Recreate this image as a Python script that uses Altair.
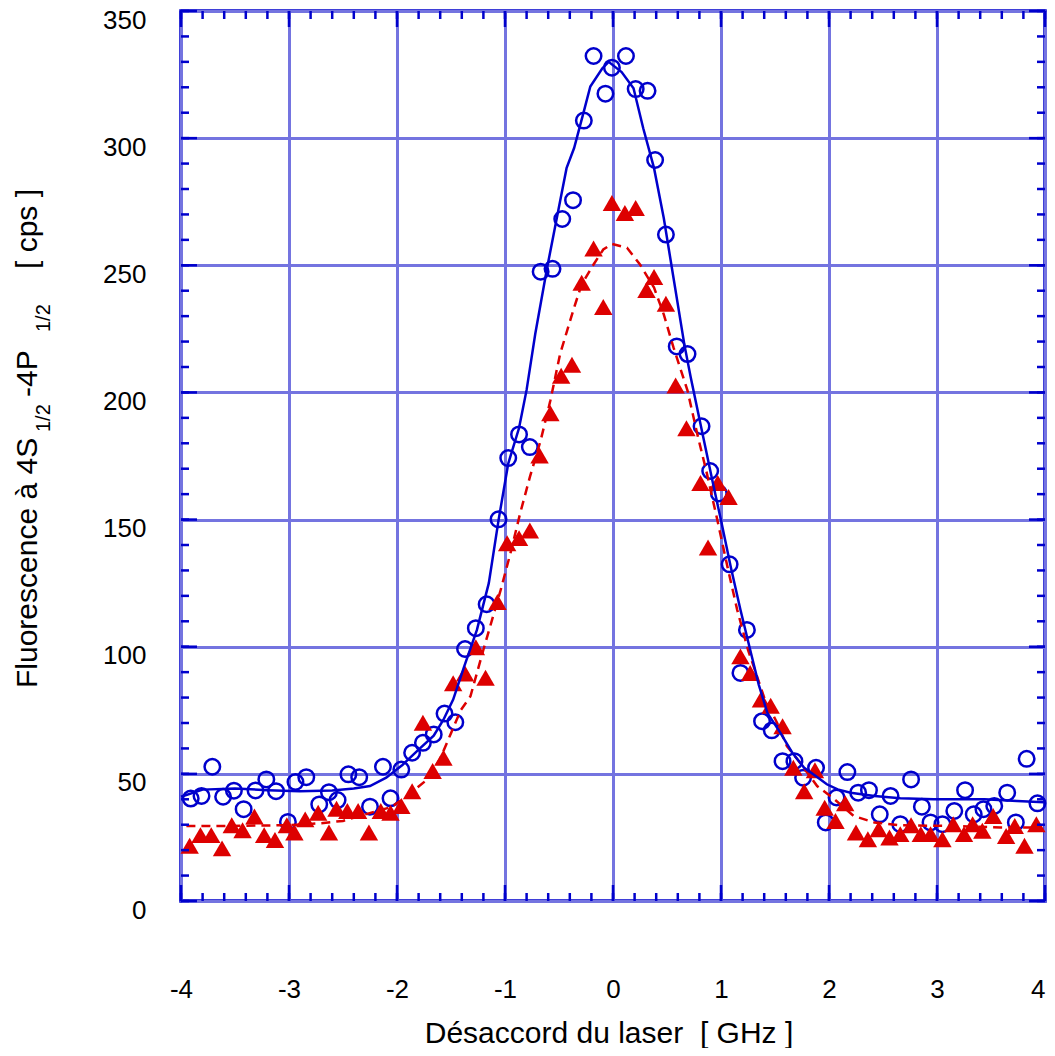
import altair as alt
import pandas as pd
import numpy as np

# ---------------- data ----------------
circ_x = [-3.91, -3.81, -3.71, -3.61, -3.51, -3.42, -3.31, -3.21, -3.12, -3.01,
          -2.94, -2.84, -2.72, -2.63, -2.55, -2.45, -2.35, -2.25, -2.13, -2.06,
          -1.96, -1.86, -1.76, -1.66, -1.56, -1.46, -1.37, -1.27, -1.17, -1.06,
          -0.97, -0.87, -0.77, -0.67, -0.56, -0.47, -0.37, -0.27, -0.18, -0.07,
          -0.01, 0.12, 0.21, 0.32, 0.39, 0.49, 0.59, 0.69, 0.82, 0.90,
          0.98, 1.08, 1.18, 1.24, 1.38, 1.47, 1.57, 1.68, 1.76, 1.88,
          1.97, 2.07, 2.17, 2.27, 2.37, 2.47, 2.57, 2.66, 2.76, 2.86,
          2.94, 3.05, 3.16, 3.26, 3.34, 3.43, 3.53, 3.65, 3.73, 3.83, 3.93]
circ_y = [40.3, 41.3, 52.8, 41.0, 43.4, 36.1, 43.5, 47.8, 43.2, 31.1,
          46.8, 48.7, 38.0, 42.8, 39.7, 49.8, 48.7, 37.1, 52.8, 40.4,
          51.7, 58.3, 62.2, 65.5, 73.7, 70.3, 99.1, 107.3, 116.7, 150.1,
          174.2, 183.5, 178.5, 247.5, 248.6, 268.2, 275.6, 306.9, 332.3, 317.5,
          327.7, 332.3, 319.3, 318.6, 291.4, 262.1, 218.1, 215.1, 186.7, 169.1,
          160.3, 132.4, 89.7, 106.6, 70.7, 67.1, 55.0, 55.0, 48.5, 52.4,
          30.9, 40.7, 50.7, 42.6, 43.6, 34.1, 41.3, 30.2, 47.8, 37.1,
          30.9, 30.2, 35.4, 43.6, 34.1, 36.1, 37.4, 42.6, 30.9, 55.9, 38.4]

tri_x = [-3.92, -3.82, -3.72, -3.62, -3.53, -3.43, -3.32, -3.23, -3.13, -3.02,
         -2.95, -2.85, -2.73, -2.63, -2.56, -2.46, -2.36, -2.26, -2.15, -2.06,
         -1.96, -1.86, -1.76, -1.67, -1.57, -1.48, -1.37, -1.27, -1.18, -1.07,
         -0.98, -0.87, -0.77, -0.68, -0.58, -0.48, -0.38, -0.29, -0.18, -0.09,
         -0.01, 0.11, 0.21, 0.31, 0.38, 0.49, 0.58, 0.68, 0.81, 0.88,
         0.97, 1.07, 1.18, 1.27, 1.37, 1.46, 1.57, 1.67, 1.77, 1.87,
         1.96, 2.06, 2.15, 2.25, 2.36, 2.46, 2.56, 2.66, 2.76, 2.85,
         2.94, 3.05, 3.15, 3.25, 3.33, 3.42, 3.52, 3.64, 3.72, 3.81, 3.92]
tri_y = [21.7, 25.9, 25.9, 20.7, 29.8, 27.8, 33.2, 25.9, 24.0, 29.8,
         26.9, 32.1, 34.7, 26.9, 36.3, 35.4, 35.4, 26.9, 35.4, 34.7,
         37.4, 43.2, 70.1, 51.1, 56.3, 85.6, 89.5, 99.8, 87.8, 117.6,
         140.7, 142.7, 145.7, 175.2, 191.8, 206.6, 210.9, 243.1, 256.6, 233.6,
         274.5, 270.6, 272.5, 240.3, 245.4, 234.9, 202.7, 185.9, 164.4, 139.0,
         164.4, 158.9, 96.2, 89.7, 79.2, 76.8, 68.7, 52.4, 43.2, 51.4,
         36.7, 31.5, 38.4, 26.9, 24.3, 28.2, 25.0, 26.3, 29.8, 26.3,
         26.3, 24.3, 30.2, 26.3, 30.2, 27.6, 33.4, 25.6, 29.5, 21.7, 30.2]

blue_fit_x = [-4.0, -3.8, -3.5, -3.2, -2.9, -2.6, -2.4, -2.25, -2.1, -1.95,
              -1.8, -1.66, -1.57, -1.48, -1.38, -1.26, -1.15, -1.06, -0.97, -0.87,
              -0.8, -0.72, -0.61, -0.55, -0.49, -0.43, -0.36, -0.27, -0.21, -0.1,
              -0.04, 0.08, 0.19, 0.28, 0.38, 0.47, 0.56, 0.66, 0.72, 0.81,
              0.92, 1.0, 1.09, 1.18, 1.27, 1.35, 1.43, 1.55, 1.66, 1.77,
              1.88, 1.98, 2.08, 2.2, 2.42, 2.66, 2.97, 3.44, 3.74, 3.99]
blue_fit_y = [41.0, 43.8, 44.2, 43.6, 43.2, 43.5, 44.2, 45.2, 48.5, 53.5,
              59.5, 65.0, 71.3, 79.2, 92.0, 106.6, 125.0, 149.7, 172.0, 186.0,
              201.0, 223.0, 249.0, 262.1, 275.2, 288.2, 296.1, 310.5, 320.3, 327.4,
              330.0, 326.0, 319.6, 303.9, 288.2, 268.6, 245.1, 219.0, 205.9, 187.6,
              165.4, 149.7, 131.4, 114.5, 98.8, 85.0, 73.9, 66.1, 58.3, 52.4,
              49.1, 45.9, 43.9, 42.6, 41.3, 40.4, 40.0, 40.0, 39.3, 38.8]

red_fit_x = [-3.95, -3.6, -3.0, -2.7, -2.5, -2.3, -2.05, -1.9, -1.72, -1.6,
             -1.5, -1.41, -1.32, -1.2, -1.04, -0.95, -0.86, -0.77, -0.67, -0.58,
             -0.49, -0.36, -0.29, -0.18, -0.09, -0.01, 0.13, 0.25, 0.38, 0.47,
             0.56, 0.69, 0.78, 0.87, 0.96, 1.06, 1.15, 1.25, 1.4, 1.52,
             1.61, 1.73, 1.89, 2.05, 2.23, 2.42, 2.66, 3.13, 3.59, 3.95]
red_fit_y = [29.5, 29.5, 29.8, 30.6, 31.5, 34.0, 37.0, 41.5, 47.8, 56.0,
             66.0, 75.0, 80.5, 98.8, 122.3, 136.7, 152.4, 166.7, 181.1, 196.8,
             215.1, 233.4, 242.5, 250.3, 256.2, 258.4, 256.9, 250.3, 241.2, 230.7,
             217.7, 200.7, 183.7, 168.0, 151.0, 131.4, 114.5, 98.8, 80.0, 70.0,
             60.9, 54.5, 45.2, 40.0, 33.4, 30.9, 29.8, 29.5, 28.9, 28.9]

x_major = [-4, -3, -2, -1, 0, 1, 2, 3, 4]
y_major = [0, 50, 100, 150, 200, 250, 300, 350]
x_minor = [round(v, 1) for v in np.arange(-4, 4.0001, 0.2)]
y_minor = list(range(0, 351, 10))

x_title = "Désaccord du laser \u00a0[ GHz ]"
y_title_parts = ["Fluorescence à 4S", "1/2", "-4P", "1/2", "[ cps ]"]

# ---------------- styling ----------------
W, H = 864, 890
BLUE = "#0000cc"
RED = "#dd0000"
GRID = "#7474e0"
FONT = "Liberation Sans"

xs = alt.Scale(domain=[-4, 4], nice=False, zero=False)
ys = alt.Scale(domain=[0, 350], nice=False, zero=False)

circles = pd.DataFrame({"x": circ_x, "y": circ_y})
triangles = pd.DataFrame({"x": tri_x, "y": tri_y})
blue_fit = pd.DataFrame({"x": blue_fit_x, "y": blue_fit_y})
red_fit = pd.DataFrame({"x": red_fit_x, "y": red_fit_y})

x_axis = alt.Axis(values=x_major, grid=True, ticks=False, domain=False,
                  labelFontSize=26, labelFont=FONT, labelColor="black",
                  labelPadding=88, labelBaseline="middle", labelFlush=False,
                  labelAlign={"condition": {"test": "datum.value == 4", "value": "right"},
                              "value": "center"},
                  labelOverlap=False, labelExpr="datum.value + ''",
                  gridColor=GRID, gridWidth=3)
y_axis = alt.Axis(values=y_major, grid=True, ticks=False, domain=False,
                  labelFontSize=26, labelFont=FONT, labelColor="black",
                  labelPadding=35, labelOffset=9, labelFlush=False,
                  labelOverlap=False, labelExpr="datum.value + ''",
                  gridColor=GRID, gridWidth=3)

X = alt.X("x:Q", scale=xs, axis=x_axis, title=None)
Y = alt.Y("y:Q", scale=ys, axis=y_axis, title=None)

circ_layer = alt.Chart(circles).mark_point(
    shape="circle", filled=False, color=BLUE, strokeWidth=2.5, size=240, opacity=1
).encode(x=X, y=Y)

tri_layer = alt.Chart(triangles).mark_point(
    shape="triangle-up", filled=True, color=RED, size=340, opacity=1
).encode(x=X, y=Y)

red_line = alt.Chart(red_fit).mark_line(
    color=RED, strokeWidth=2.5, strokeDash=[9, 6]
).encode(x=X, y=Y, order="x:Q")

blue_line = alt.Chart(blue_fit).mark_line(
    color=BLUE, strokeWidth=2.5
).encode(x=X, y=Y, order="x:Q")

MAJ, MIN = 16, 8
TW = 2.5


def xticks(vals, L):
    df = pd.DataFrame({"x": vals})
    bot = alt.Chart(df).mark_rule(color=BLUE, strokeWidth=TW).encode(
        x=X, y=alt.value(H), y2=alt.value(H - L))
    top = alt.Chart(df).mark_rule(color=BLUE, strokeWidth=TW).encode(
        x=X, y=alt.value(0), y2=alt.value(L))
    return [bot, top]


def yticks(vals, L):
    df = pd.DataFrame({"y": vals})
    left = alt.Chart(df).mark_rule(color=BLUE, strokeWidth=TW).encode(
        y=Y, x=alt.value(0), x2=alt.value(L))
    right = alt.Chart(df).mark_rule(color=BLUE, strokeWidth=TW).encode(
        y=Y, x=alt.value(W), x2=alt.value(W - L))
    return [left, right]


ticks = xticks(x_major, MAJ) + xticks(x_minor, MIN) + yticks(y_major, MAJ) + yticks(y_minor, MIN)

dummy = pd.DataFrame({"d": [0]})


def txt(s, px, py, size, angle=0, align="left", baseline="alphabetic"):
    kw = dict(text=s, fontSize=size, font=FONT, color="black", align=align, baseline=baseline)
    if angle:
        kw["angle"] = angle
    return alt.Chart(dummy).mark_text(**kw).encode(x=alt.value(px), y=alt.value(py))


titles = [
    txt(x_title, 428, 1023, 30, align="center", baseline="middle"),
    txt(y_title_parts[0], -144, 677, 30, angle=270),
    txt(y_title_parts[1], -131, 421, 20, angle=270),
    txt(y_title_parts[2], -144, 386, 30, angle=270),
    txt(y_title_parts[3], -131, 321, 20, angle=270),
    txt(y_title_parts[4], -144, 258, 30, angle=270),
]

chart = alt.layer(
    circ_layer, tri_layer, red_line, blue_line, *ticks, *titles
).properties(
    width=W, height=H,
    padding={"left": 173, "top": 3, "right": 2, "bottom": 147},
    autosize=alt.AutoSizeParams(type="none"),
).configure_view(
    stroke=BLUE, strokeWidth=3.5
)

chart.save("out.html", embed_options={"renderer": "svg", "actions": False})
